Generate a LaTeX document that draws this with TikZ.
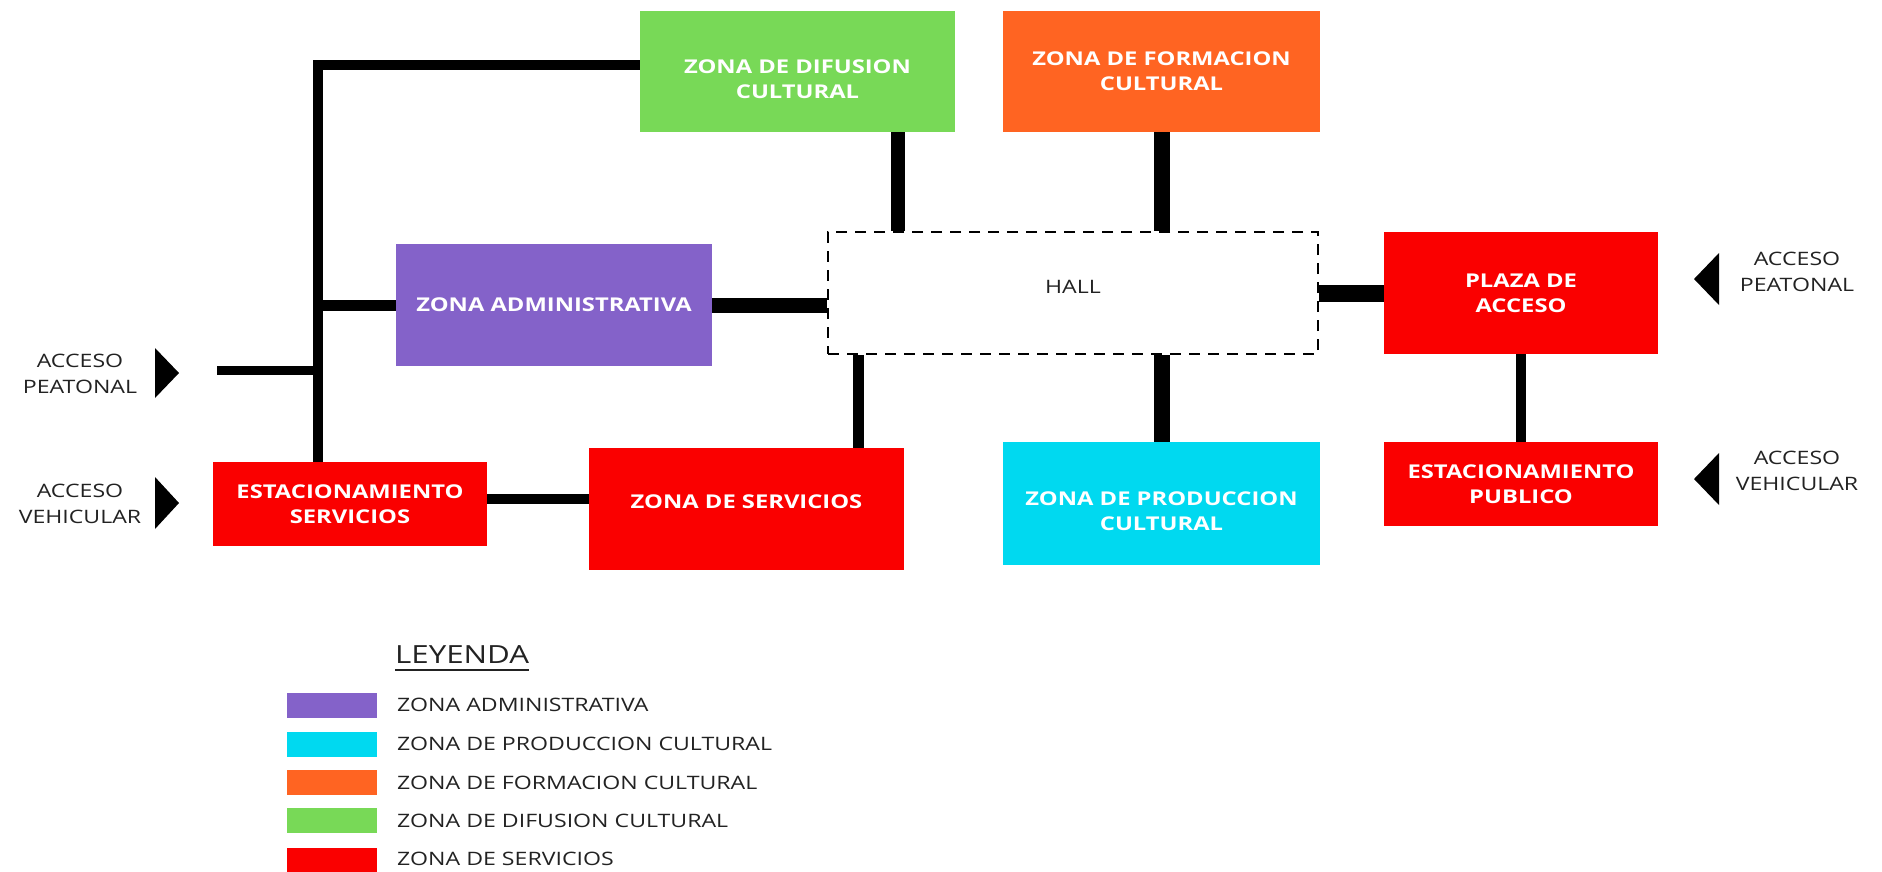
\documentclass[tikz,border=0pt]{standalone}
\usepackage{fontspec}
\setmainfont{Open Sans}[FakeStretch=1.25]
\usetikzlibrary{calc}
\definecolor{cpurple}{HTML}{8462C9}
\definecolor{ccyan}{HTML}{00D9F0}
\definecolor{corange}{HTML}{FF6422}
\definecolor{cgreen}{HTML}{78D957}
\definecolor{cred}{HTML}{FA0000}
\definecolor{ctext}{HTML}{222222}
\begin{document}
\begin{tikzpicture}[x=1pt,y=-1pt,
  zbox/.style={fill=#1, draw=none, text=white, font=\bfseries\fontsize{19}{25}\selectfont, align=center, inner sep=0pt},
  ztext/.style={text=white, font=\bfseries\fontsize{19}{25}\selectfont, align=center, inner sep=0pt},
  hallbox/.style={draw=black, line width=2.5pt, dash pattern=on 11pt off 8pt, fill=white, inner sep=0pt},
  conn/.style={draw=black, line join=miter},
  acc/.style={font=\fontsize{18.5}{26}\selectfont, text=ctext, align=center, inner sep=0pt},
  swatch/.style={fill=#1, minimum width=90pt, minimum height=25pt, inner sep=0pt},
  legtext/.style={anchor=west, font=\fontsize{18.5}{20}\selectfont, text=ctext, inner sep=0pt},
  tri/.style={fill=black}
]
\useasboundingbox (0,0) rectangle (1882,871);
% boxes
\node[zbox=cgreen, minimum width=315pt, minimum height=121pt] (dif) at (797.5,71.5) {};
\node[ztext] (dift) at (797.5,79) {ZONA DE DIFUSION\\CULTURAL};
\node[zbox=corange, minimum width=317pt, minimum height=121pt] (form) at (1161.5,71.5) {ZONA DE FORMACION\\CULTURAL};
\node[zbox=cpurple, minimum width=316pt, minimum height=122pt] (adm) at (554,305) {ZONA ADMINISTRATIVA};
\node[hallbox, minimum width=490pt, minimum height=122pt] (hall) at (1073,293) {};
\node[acc] (hallt) at (1073,287) {HALL};
\node[zbox=cred, minimum width=274pt, minimum height=122pt] (plaza) at (1521,293) {PLAZA DE\\ACCESO};
\node[zbox=cred, minimum width=274pt, minimum height=84pt] (estserv) at (350,504) {ESTACIONAMIENTO\\SERVICIOS};
\node[zbox=cred, minimum width=315pt, minimum height=122pt] (serv) at (746.5,509) {};
\node[ztext] (servt) at (746.5,502) {ZONA DE SERVICIOS};
\node[zbox=ccyan, minimum width=317pt, minimum height=123pt] (prod) at (1161.5,503.5) {};
\node[ztext] (prodt) at (1161.5,511) {ZONA DE PRODUCCION\\CULTURAL};
\node[zbox=cred, minimum width=274pt, minimum height=84pt] (estpub) at (1521,484) {ESTACIONAMIENTO\\PUBLICO};
% helper coordinates
\coordinate (sp) at (318,65);
\coordinate (pl) at (217,370);
\coordinate (xd) at (898,0);
\coordinate (xs) at (858,0);
\coordinate (ye) at (0,499);
% connectors
\draw[conn, line width=10pt] (sp |- estserv.north) -- (sp) -- (sp -| dif.west);
\draw[conn, line width=11pt] (adm.west) -- (adm.west -| sp);
\draw[conn, line width=9pt] (pl) -- (pl -| sp);
\draw[conn, line width=15pt] (adm.east) -- (adm.east -| hall.west);
\draw[conn, line width=14pt] (xd |- dif.south) -- (xd |- hall.north);
\draw[conn, line width=16pt] (form.south) -- (form.south |- hall.north);
\draw[conn, line width=16pt] (prod.north) -- (prod.north |- hall.south);
\draw[conn, line width=17pt] (hall.east) -- (plaza.west);
\draw[conn, line width=11pt] (xs |- hall.south) -- (xs |- serv.north);
\draw[conn, line width=10pt] (ye -| estserv.east) -- (ye -| serv.west);
\draw[conn, line width=10pt] (plaza.south) -- (estpub.north);
% access labels and triangles
\node[acc] (lpea) at (80,374) {ACCESO\\PEATONAL};
\node[acc] (lveh) at (80,504) {ACCESO\\VEHICULAR};
\node[acc] (rpea) at (1797,272) {ACCESO\\PEATONAL};
\node[acc] (rveh) at (1797,471) {ACCESO\\VEHICULAR};
\fill[tri] (155,348) -- (179,373) -- (155,398) -- cycle;
\fill[tri] (155,477) -- (179,503) -- (155,529) -- cycle;
\fill[tri] (1719,253) -- (1694,279) -- (1719,305) -- cycle;
\fill[tri] (1719,453) -- (1694,479) -- (1719,505) -- cycle;
% legend
\node[anchor=west, font=\fontsize{25}{26}\selectfont, text=ctext, inner sep=0pt] (ley) at (395,655) {LEYENDA};
\draw[line width=1.5pt, ctext] ($(ley.south west)+(0,6)$) -- ($(ley.south east)+(0,6)$);
\node[swatch=cpurple] (s1) at (332,705.5) {};
\node[swatch=ccyan] (s2) at (332,744.5) {};
\node[swatch=corange] (s3) at (332,782.5) {};
\node[swatch=cgreen] (s4) at (332,820.5) {};
\node[swatch=cred] (s5) at (332,860) {};
\node[legtext] (t1) at (397,705) {ZONA ADMINISTRATIVA};
\node[legtext] (t2) at (397,744) {ZONA DE PRODUCCION CULTURAL};
\node[legtext] (t3) at (397,783) {ZONA DE FORMACION CULTURAL};
\node[legtext] (t4) at (397,821) {ZONA DE DIFUSION CULTURAL};
\node[legtext] (t5) at (397,859) {ZONA DE SERVICIOS};
\end{tikzpicture}
\end{document}
